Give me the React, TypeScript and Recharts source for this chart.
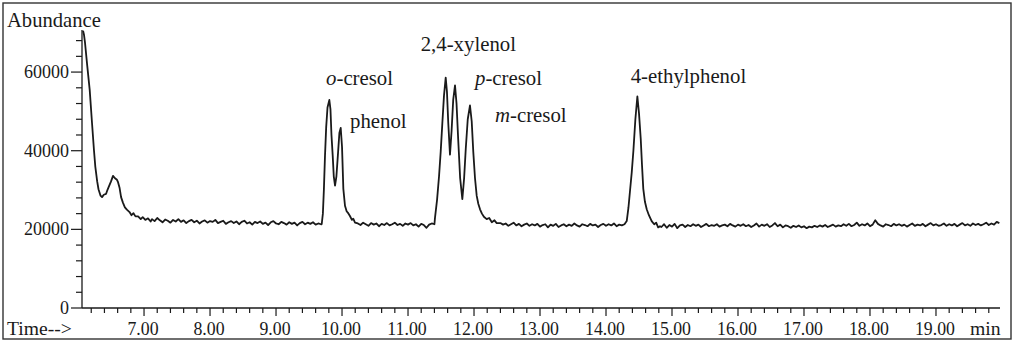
import React from "react";
import { LineChart, Line, XAxis, YAxis, ReferenceDot } from "recharts";

// ---- data (time in min, abundance) ----
const scanStep = 0.04;

const leadIn: [number, number][] = [
  [6.076, 70500], [6.09, 69500], [6.106, 67400], [6.14, 61500], [6.177, 55400],
  [6.212, 47000], [6.242, 40000], [6.262, 35900], [6.29, 32200], [6.31, 30200],
  [6.34, 28600], [6.364, 28200], [6.39, 28800], [6.424, 29000], [6.445, 30000],
  [6.465, 30800], [6.5, 32200], [6.53, 33600], [6.56, 33000], [6.59, 32600],
  [6.606, 32000], [6.63, 30500], [6.652, 28200], [6.68, 26800], [6.71, 25600],
  [6.74, 25000], [6.78, 24400], [6.81, 23600], [6.84, 24100], [6.87, 23300],
  [6.91, 23300], [6.95, 22600], [6.98, 23100], [7.02, 22400], [7.06, 22800],
  [7.1, 22000],
];

const base1Start = 7.12;
const base1 = [
  22600, 22100, 22900, 22300, 21800, 22500, 22200, 21700, 22400, 22000,
  22600, 21900, 22300, 21600, 22100, 22400, 21800, 22200, 21500, 22000,
  22300, 21700, 22100, 21900, 22400, 21600, 21900, 22200, 21400, 21800,
  22100, 21600, 22000, 21300, 21900, 22200, 21500, 21800, 21200, 21900,
  21600, 22000, 21400, 21700, 21100, 21800, 22100, 21500, 21300, 21900,
  21600, 21200, 21800, 21400, 21700, 21000, 21600, 21900, 21300, 21700,
  21400, 21800, 21200, 21500, 21300,
];

const peakCresolPhenol: [number, number][] = [
  [9.692, 21300], [9.71, 24000], [9.725, 30000], [9.742, 38700], [9.76, 46000],
  [9.78, 51000], [9.808, 52900], [9.825, 50500], [9.84, 44000], [9.859, 38700],
  [9.875, 33500], [9.894, 31100], [9.915, 33500], [9.94, 39500], [9.96, 44500],
  [9.98, 45800], [10.0, 41000], [10.02, 30300], [10.045, 26000], [10.07, 24600],
  [10.09, 24200], [10.12, 23400], [10.15, 22400], [10.17, 22700], [10.197, 21700],
];

const base2Start = 10.24;
const base2 = [
  21500, 21100, 21700, 21300, 20900, 21600, 21200, 21500, 20800, 21400,
  21100, 21600, 21000, 21300, 21700, 21100, 21400, 20900, 21500, 21200,
  21600, 21000, 21300, 20700, 21400, 21100, 20400, 21200, 21500, 21300,
];

const peakXylenolCresols: [number, number][] = [
  [11.409, 23000], [11.44, 27500], [11.47, 33500], [11.495, 39700], [11.52, 47000],
  [11.545, 54000], [11.571, 58600], [11.59, 55000], [11.61, 47000], [11.636, 39000],
  [11.66, 45000], [11.685, 53000], [11.712, 56600], [11.735, 52000], [11.76, 43000],
  [11.79, 33000], [11.823, 27700], [11.85, 33000], [11.875, 40500], [11.905, 48000],
  [11.939, 51500], [11.965, 47500], [11.989, 39700], [12.015, 33000], [12.041, 28500],
  [12.065, 26500], [12.091, 25100], [12.12, 24000], [12.15, 23200], [12.192, 22600],
  [12.23, 22900], [12.27, 21800], [12.31, 22300], [12.344, 21600],
];

const base3Start = 12.4;
const base3 = [
  21600, 21200, 21500, 20900, 21300, 21700, 21000, 21400, 20800, 21200,
  21500, 20900, 21300, 21000, 21400, 20700, 21100, 21300, 20500, 21200,
  20900, 21400, 20600, 21000, 21300, 20800, 21200, 20900, 21500, 21000,
  20700, 21300, 21100, 20800, 21400, 21000, 21200, 20600, 21100, 21400,
  20900, 21300, 21000, 21500, 20800, 21200, 21000, 21300,
];

const peakEthylphenol: [number, number][] = [
  [14.314, 22100], [14.34, 25500], [14.365, 30000], [14.39, 34500], [14.415, 40000],
  [14.445, 48000], [14.475, 53800], [14.5, 49500], [14.526, 43100], [14.545, 36500],
  [14.565, 30300], [14.59, 27000], [14.617, 25100], [14.65, 23600], [14.692, 22100],
  [14.73, 21300], [14.76, 21700], [14.79, 20500], [14.818, 20800],
];

const base4Start = 14.84;
const base4 = [
  20600, 21300, 20400, 21100, 20700, 21400, 20300, 21000, 21200, 20600,
  21100, 20800, 21300, 20900, 21200, 20600, 21000, 21400, 20800, 21100,
  20900, 21300, 20700, 21000, 21200, 20800, 21400, 21000, 20700, 21200,
  20900, 21300, 20800, 21100, 20600, 21000, 21500, 20700, 21200, 20900,
  21300, 20600, 21000, 21600, 20800, 21200, 20500, 21000, 20800, 20400,
  20900, 20600, 21000, 20500, 20800, 20300, 20700, 20500, 20900, 20600,
  21000, 20700, 21100, 20600, 20900, 21200, 20700, 21000, 20800, 21300,
  20900, 21400, 20800, 21100, 21700, 20900, 21300, 21000, 21500, 20800,
  21200, 22300, 21400, 21000, 20700, 21300, 21100, 20800, 21400, 21000,
  21300, 20900, 21200, 20700, 21100, 21500, 20900, 21200, 21000, 21400,
  20800, 21200, 21600, 21000, 21300, 20900, 21100, 21500, 20900, 21300,
  21000, 21400, 20800, 21200, 21600, 21000, 21300, 20900, 21500, 21100,
  21400, 21000, 21300, 21700, 21100, 21500, 21200, 21900, 21600,
];

const xMajorTicks = [7, 8, 9, 10, 11, 12, 13, 14, 15, 16, 17, 18, 19];
const yMajorTicks = [0, 20000, 40000, 60000];
const xDomain: [number, number] = [6.06, 19.97];
const yDomain: [number, number] = [0, 70700];

const peakLabels = [
  { prefix: "o", rest: "-cresol", t: 9.758, a: 56700 },
  { prefix: "", rest: "phenol", t: 10.121, a: 45770 },
  { prefix: "", rest: "2,4-xylenol", t: 11.192, a: 65420 },
  { prefix: "p", rest: "-cresol", t: 12.015, a: 56700 },
  { prefix: "m", rest: "-cresol", t: 12.318, a: 47370 },
  { prefix: "", rest: "4-ethylphenol", t: 14.374, a: 57130 },
];

// ---- assemble ----
const fromBase = (start: number, vals: number[]) =>
  vals.map((v, i) => [Math.round((start + i * scanStep) * 1000) / 1000, v] as [number, number]);

const data = [
  ...leadIn,
  ...fromBase(base1Start, base1),
  ...peakCresolPhenol,
  ...fromBase(base2Start, base2),
  ...peakXylenolCresols,
  ...fromBase(base3Start, base3),
  ...peakEthylphenol,
  ...fromBase(base4Start, base4),
].map(([t, a]) => ({ t, a }));

const xAllTicks: number[] = [];
for (let k = 31; k <= 99; k++) xAllTicks.push(Math.round(k * 2) / 10);
const yAllTicks: number[] = [];
for (let k = 0; k <= 17; k++) yAllTicks.push(k * 4000);

const FONT = '"Liberation Serif", "DejaVu Serif", serif';
const INK = "#1a1a1a";
const serif = (size: number, extra: React.CSSProperties = {}): React.CSSProperties => ({
  fontFamily: FONT,
  fontSize: size,
  ...extra,
});

const XTick = (props: any) => {
  const { x, y, payload } = props;
  const v = payload.value as number;
  const major = xMajorTicks.some((m) => Math.abs(m - v) < 1e-6);
  return (
    <g>
      <line x1={x} y1={y} x2={x} y2={y + (major ? 8 : 5)} stroke={INK} strokeWidth={1.2} />
      {major && (
        <text x={x - 1} y={y + 27} textAnchor="middle" style={serif(17.8)} fill={INK}>
          {v.toFixed(2)}
        </text>
      )}
    </g>
  );
};

const YTick = (props: any) => {
  const { x, y, payload } = props;
  const v = payload.value as number;
  const major = yMajorTicks.includes(v);
  return (
    <g>
      <line x1={x - (major ? 11 : 6)} y1={y} x2={x} y2={y} stroke={INK} strokeWidth={1.2} />
      {major && (
        <text x={x - 13} y={y + 6} textAnchor="end" style={serif(18)} fill={INK}>
          {String(v)}
        </text>
      )}
    </g>
  );
};

const makePeakLabel = (prefix: string, rest: string) => (lp: any) => {
  const vb = lp && lp.viewBox ? lp.viewBox : { x: 0, y: 0 };
  return (
    <text x={vb.x} y={vb.y} style={serif(20.8)} fill={INK}>
      {prefix && <tspan style={{ fontStyle: "italic" }}>{prefix}</tspan>}
      <tspan>{rest}</tspan>
    </text>
  );
};

export default function App() {
  return (
    <div style={{ position: "absolute", left: 0, top: 0, width: 1016, height: 341, background: "#fff" }}>
      <LineChart width={1016} height={341} data={data} margin={{ top: 30, right: 16, bottom: 0, left: 0 }}>
        <XAxis
          dataKey="t"
          type="number"
          domain={xDomain}
          allowDataOverflow
          ticks={xAllTicks}
          interval={0}
          tickSize={0}
          tickMargin={0}
          tickLine={false}
          tick={<XTick />}
          height={33}
          axisLine={{ stroke: INK, strokeWidth: 1.3 }}
        />
        <YAxis
          type="number"
          domain={yDomain}
          allowDataOverflow
          ticks={yAllTicks}
          interval={0}
          tickSize={0}
          tickMargin={0}
          tickLine={false}
          tick={<YTick />}
          width={82}
          axisLine={{ stroke: INK, strokeWidth: 1.3 }}
        />
        <Line
          dataKey="a"
          type="linear"
          dot={false}
          stroke={INK}
          strokeWidth={1.8}
          strokeLinejoin="round"
          isAnimationActive={false}
        />
        {peakLabels.map((p) => (
          <ReferenceDot
            key={p.rest + p.prefix}
            x={p.t}
            y={p.a}
            r={0}
            fill="none"
            stroke="none"
            ifOverflow="visible"
            label={makePeakLabel(p.prefix, p.rest)}
          />
        ))}
      </LineChart>
      <svg
        width={1016}
        height={341}
        style={{ position: "absolute", left: 0, top: 0, pointerEvents: "none" }}
      >
        <rect x={3} y={3} width={1008} height={336} fill="none" stroke="#333" strokeWidth={1.4} />
        <text x={7} y={27} style={serif(20.6)} fill={INK}>Abundance</text>
        <text x={7} y={335} style={serif(19.6)} fill={INK}>Time--&gt;</text>
        <text x={970} y={335} style={serif(19.7)} fill={INK}>min</text>
      </svg>
    </div>
  );
}
